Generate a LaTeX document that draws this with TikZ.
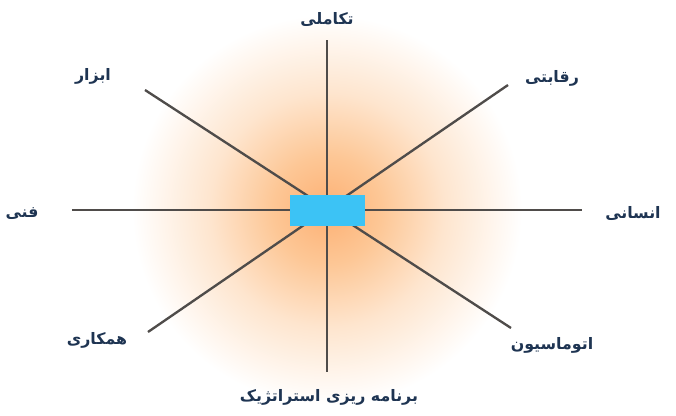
\documentclass[tikz,border=0pt]{standalone}
\usepackage{fontspec}
\usepackage{tikz}
\usetikzlibrary{positioning, calc}
\TeXXeTstate=1
\newfontfamily\persianfont[Script=Arabic]{DejaVu Sans}
\definecolor{hubBlue}{HTML}{3CC3F5}
\definecolor{spokeGray}{HTML}{4F4C4A}
\definecolor{labelNavy}{HTML}{1E3452}
\definecolor{glowA}{HTML}{FDB073}
\definecolor{glowB}{HTML}{FDC796}
\definecolor{glowC}{HTML}{FEE5CE}
\pgfdeclareradialshading{glow}{\pgfpoint{0bp}{0bp}}{%
  color(0bp)=(glowA); color(7bp)=(glowB); color(15bp)=(glowC); color(25bp)=(white); color(50bp)=(white)}

\begin{document}
\begin{tikzpicture}[
  x=0.03cm, y=0.03cm,
  spoke/.style={draw=spokeGray, line width=2pt},
  hubbox/.style={fill=hubBlue, minimum width=2.25cm, minimum height=0.93cm, inner sep=0pt},
  lab/.style={font=\persianfont\bfseries\fontsize{13.5}{15}\selectfont, text=labelNavy, inner sep=1pt}
]
\useasboundingbox (-327,-205) rectangle (349,210);
\shade[shading=glow] (0,0) circle (195);

% spoke ends
\coordinate (endTop) at (0,170);
\coordinate (endBot) at (0,-162);
\coordinate (endLeft) at (-255,0);
\coordinate (endRight) at (255,0);
\coordinate (endNW) at (-182,120);
\coordinate (endSE) at (184,-118);
\coordinate (endNE) at (181,125);
\coordinate (endSW) at (-179,-122);

\draw[spoke] (endTop) -- (endBot);
\draw[spoke] (endLeft) -- (endRight);
\draw[spoke] (endNW) -- (endSE);
\draw[spoke] (endNE) -- (endSW);

\node[hubbox] (hub) at (0.5,-0.5) {};

\node[lab] (tTop) at (0,191) {\beginR تکاملی\endR};
\node[lab] (tNW) at (-234,134) {\beginR ابزار\endR};
\node[lab] (tNE) at (225,132) {\beginR رقابتی\endR};
\node[lab] (tLeft) at (-305,-4) {\beginR فنی\endR};
\node[lab] (tRight) at (306,-3) {\beginR انسانی\endR};
\node[lab] (tSW) at (-230,-130) {\beginR همکاری\endR};
\node[lab] (tSE) at (225,-135) {\beginR اتوماسیون\endR};
\node[lab] (tBot) at (2,-187) {\beginR برنامه ریزی استراتژیک\endR};
\end{tikzpicture}
\end{document}
